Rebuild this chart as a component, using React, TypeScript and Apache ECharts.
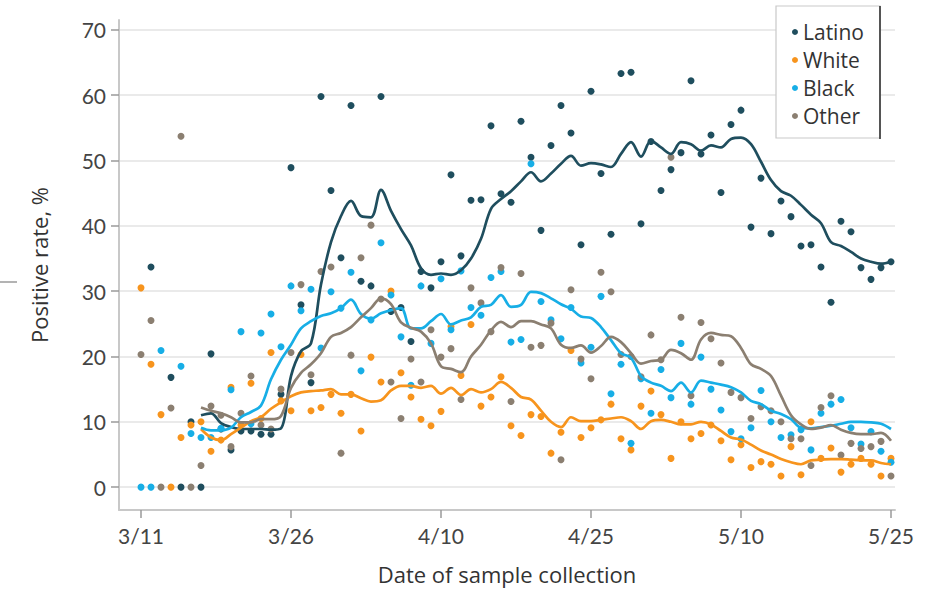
import React, { useEffect, useRef } from "react";
import * as echarts from "echarts";

// Days since 3/11 (index = day 0..75)
const xTickLabels = ["3/11", "3/26", "4/10", "4/25", "5/10", "5/25"];
const yTickValues = [0, 10, 20, 30, 40, 50, 60, 70];
const seriesNames = ["Latino", "White", "Black", "Other"];
const seriesColors = ["#1f4e5e", "#f7941d", "#17aee6", "#8b7f71"];

const latinoPts = [null, 33.7, null, 16.8, 0, 10.0, 0, 20.4, 8.9, 5.7,
  8.6, 8.6, 8.1, 8.1, 14.2, 48.9, 27.9, 16.0, 59.8, 45.4,
  35.1, 58.4, 31.5, 30.8, 59.8, 26.9, 27.5, 22.3, 33.0, 30.5,
  34.5, 47.8, 35.4, 43.9, 44.0, 55.3, 44.9, 43.6, 56.0, 50.5,
  39.3, 52.3, 58.4, 54.2, 37.1, 60.6, 48.0, 38.7, 63.3, 63.5,
  40.3, 52.9, 45.4, 48.6, 51.2, 62.2, 51.0, 53.9, 45.1, 55.5,
  57.7, 39.8, 47.3, 38.8, 43.8, 41.4, 36.9, 37.1, 33.7, 28.3,
  40.7, 39.1, 33.6, 31.8, 33.6, 34.5];

const whitePts = [30.5, 18.8, 11.1, 0, 7.6, 9.5, 10.0, 5.5, 7.2, 15.3,
  9.5, 15.9, 10.5, 20.6, 13.2, 11.7, 20.3, 11.7, 12.2, 14.2,
  11.3, 14.2, 8.6, 19.9, 16.1, 30.0, 17.5, 13.8, 10.4, 9.4,
  11.6, 24.6, 17.1, 24.9, 12.4, 13.8, 16.9, 9.4, 7.9, 11.1,
  10.8, 5.2, 8.4, 20.9, 7.6, 9.1, 10.3, 12.7, 7.4, 5.7,
  12.4, 14.7, 11.1, 4.4, 10.0, 7.4, 8.2, 9.5, 7.1, 4.2,
  6.5, 3.0, 3.9, 3.5, 1.7, 6.2, 1.9, 10.0, 4.4, 6.0,
  2.3, 3.5, 4.4, 3.5, 1.7, 4.4];

const blackPts = [0, 0, 20.9, null, 18.5, 8.2, 7.6, 7.6, 9.0, 14.9,
  23.8, 9.7, 23.6, 26.5, 21.5, 30.8, 27.0, 30.3, 21.3, 29.9,
  27.4, 32.9, 17.8, 25.6, 37.4, 29.4, 23.0, 15.6, 30.8, 22.0,
  31.9, 24.1, 33.1, 27.5, 26.3, 32.1, 33.0, 22.2, 22.6, 49.5,
  28.4, 25.6, 22.7, 27.5, 19.0, 21.4, 29.2, 14.3, 18.8, 6.7,
  16.6, 11.3, 18.0, 13.7, 22.0, 12.7, 19.9, 15.0, 11.8, 8.5,
  7.4, 9.1, 14.8, 10.0, 7.6, 8.0, 8.8, 5.7, 11.3, 12.7,
  13.4, 9.1, 6.6, 8.5, 5.5, 3.8];

const otherPts = [20.3, 25.5, 0, 12.1, 53.7, 0, 3.3, 12.4, 11.0, 6.2,
  11.3, 17.0, 9.5, 8.9, 15.0, 20.6, 31.0, 17.2, 33.0, 33.7,
  5.2, 20.2, 35.1, 40.1, 28.8, 16.1, 10.5, 19.6, 16.1, 24.1,
  19.9, 21.2, 13.4, 30.5, 28.2, 23.8, 33.6, 13.1, 32.7, 21.4,
  21.7, 25.1, 4.2, 30.2, 19.6, 16.6, 32.9, 29.9, 20.3, 20.0,
  16.9, 23.3, 19.5, 50.5, 26.0, 14.0, 25.2, 22.7, 19.0, 14.5,
  13.7, 10.5, 12.3, 11.7, 10.0, 7.4, 7.4, 3.3, 12.2, 14.0,
  4.9, 6.7, 5.9, 6.2, 7.0, 1.7];

const latinoLine = [null, null, null, null, null, null,
  11.0, 11.3, 9.8, 9.2, 8.9, 8.9, 8.9, 8.8, 9.0, 17.0,
  20.8, 22.0, 31.0, 37.5, 41.5, 43.8, 41.5, 41.3, 45.5, 42.3,
  39.5, 37.0, 33.5, 32.5, 32.7, 32.5, 33.2, 35.0, 38.0, 42.6,
  44.1, 45.3, 46.8, 48.2, 46.8, 48.0, 49.5, 50.7, 49.2, 49.6,
  49.4, 49.0, 51.0, 52.8, 50.6, 53.0, 52.0, 51.0, 52.8, 52.5,
  51.5, 52.3, 52.0, 53.3, 53.5, 52.5, 49.8, 47.0, 45.3, 44.6,
  43.2, 41.7, 40.4, 37.5, 36.9, 36.0, 35.0, 34.5, 34.2, 34.5];

const whiteLine = [null, null, null, null, null, null,
  8.9, 7.6, 7.2, 8.1, 9.1, 10.1, 10.7, 12.0, 13.0, 13.9,
  14.5, 14.7, 14.8, 15.0, 14.2, 14.2, 13.6, 13.1, 13.3, 14.8,
  15.5, 15.5, 15.2, 15.5, 14.3, 15.2, 14.1, 15.0, 14.5, 15.0,
  16.1, 15.2, 13.8, 13.4, 11.7, 10.0, 9.2, 10.7, 10.1, 10.1,
  10.3, 10.5, 10.7, 10.1, 8.9, 10.1, 10.3, 10.0, 9.6, 9.6,
  10.0, 9.6, 8.6, 7.6, 7.3, 6.5, 5.6, 5.0, 4.3, 3.8,
  3.5, 4.1, 4.2, 4.3, 4.3, 4.2, 4.1, 4.1, 3.7, 3.5];

const blackLine = [null, null, null, null, null, null,
  9.1, 8.7, 8.7, 9.1, 10.7, 11.5, 12.5, 16.5, 19.5, 21.8,
  24.3, 25.4, 26.2, 26.6, 27.4, 28.7, 26.5, 25.8, 26.6, 27.1,
  27.4, 24.3, 24.3, 25.4, 26.5, 24.9, 25.5, 26.0, 27.6, 27.9,
  29.4, 27.6, 27.9, 29.9, 29.7, 28.9, 28.0, 27.3, 26.1, 25.9,
  24.5, 22.5, 20.5, 19.8, 17.0, 16.0, 15.5, 14.7, 16.0, 14.5,
  16.3, 16.0, 15.7, 15.3, 14.5, 13.2, 12.7, 11.7, 11.2, 10.4,
  9.1, 9.0, 9.2, 9.4, 9.7, 10.0, 10.0, 9.9, 9.7, 8.9];

const otherLine = [null, null, null, null, null, null,
  12.2, 11.7, 11.3, 10.7, 9.9, 9.9, 10.4, 10.4, 10.9, 15.2,
  17.5, 18.8, 20.5, 23.0, 23.6, 24.5, 26.0, 27.4, 28.9, 28.0,
  25.2, 24.4, 23.8, 22.0, 18.5, 18.1, 17.6, 20.0, 21.8, 24.0,
  25.3, 24.5, 25.4, 25.4, 24.9, 24.3, 21.8, 21.3, 21.7, 20.6,
  21.6, 23.0, 22.2, 20.5, 18.9, 19.3, 19.5, 21.0, 20.5, 19.5,
  22.6, 23.6, 23.3, 23.1, 21.3, 18.8, 18.1, 17.0, 14.0, 11.0,
  9.6, 8.9, 9.1, 9.5, 8.8, 8.3, 8.1, 8.1, 8.3, 7.1];

const pointSets = [latinoPts, whitePts, blackPts, otherPts];
const lineSets = [latinoLine, whiteLine, blackLine, otherLine];

const TITLE_FONT = "'Open Sans', Lato, sans-serif";
const TICK_FONT = "Lato, 'Open Sans', sans-serif";

function toPairs(arr: (number | null)[]) {
  const out: [number, number][] = [];
  arr.forEach((v, i) => {
    if (v !== null && v !== undefined) out.push([i, v]);
  });
  return out;
}

export default function App() {
  const ref = useRef<HTMLDivElement>(null);

  useEffect(() => {
    if (!ref.current) return;
    const chart = echarts.init(ref.current, undefined, { renderer: "svg" });

    const scatterSeries = seriesNames.map((name, k) => ({
      name,
      type: "scatter",
      data: toPairs(pointSets[k]),
      symbol: "circle",
      symbolSize: 7,
      itemStyle: { color: seriesColors[k], opacity: 1 },
      z: 2,
    }));
    const lineSeries = seriesNames.map((name, k) => ({
      name: name + " trend",
      type: "line",
      data: toPairs(lineSets[k]),
      smooth: 0.35,
      showSymbol: false,
      symbol: "none",
      lineStyle: { color: seriesColors[k], width: 2.7 },
      z: 3,
    }));

    const xTickValues = xTickLabels.map((_, i) => i * 15);

    chart.setOption({
      animation: false,
      backgroundColor: "#ffffff",
      textStyle: { fontFamily: TICK_FONT },
      grid: { left: 119, right: 43, top: 20, bottom: 77, containLabel: false },
      legend: {
        data: seriesNames,
        orient: "vertical",
        left: 776,
        top: 6,
        padding: [15, 14, 11, 16],
        itemGap: 6,
        itemWidth: 6,
        itemHeight: 6,
        icon: "circle",
        borderWidth: 0,
        z: 10,
        textStyle: { fontSize: 21, color: "#333333", fontFamily: TITLE_FONT, lineHeight: 22 },
      },
      xAxis: {
        type: "value",
        min: -2.2,
        max: 75.4,
        name: "Date of sample collection",
        nameLocation: "middle",
        nameGap: 53,
        nameTextStyle: { fontSize: 22, color: "#333333", fontFamily: TITLE_FONT },
        axisLine: { show: true, onZero: false, lineStyle: { color: "#c8c8c8", width: 2 } },
        axisTick: { show: true, length: 8, customValues: xTickValues, lineStyle: { color: "#9a9a9a", width: 1.5 } },
        axisLabel: {
          customValues: xTickValues,
          margin: 15,
          fontSize: 21,
          color: "#444444",
          fontFamily: TICK_FONT,
          formatter: (v: number) => xTickLabels[Math.round(v / 15)] ?? "",
        },
        splitLine: { show: false },
      },
      yAxis: {
        type: "value",
        min: -3.5,
        max: 71.5,
        name: "Positive rate, %",
        nameLocation: "middle",
        nameGap: 69,
        nameTextStyle: { fontSize: 22, color: "#333333", fontFamily: TITLE_FONT },
        axisLine: { show: true, onZero: false, lineStyle: { color: "#c8c8c8", width: 2 } },
        axisTick: { show: true, length: 8, customValues: yTickValues, lineStyle: { color: "#9a9a9a", width: 1.5 } },
        axisLabel: {
          customValues: yTickValues,
          margin: 13,
          fontSize: 21,
          color: "#444444",
          fontFamily: TICK_FONT,
        },
        splitLine: { show: true, lineStyle: { color: "#e3e3e3", width: 1.6 } },
      },
      graphic: [
        { type: "line", shape: { x1: 0, y1: 282, x2: 17, y2: 282 }, style: { stroke: "#808080", lineWidth: 1.2 }, z: 10 },
        {
          type: "rect",
          shape: { x: 776, y: 6, width: 104, height: 132 },
          style: { fill: "#ffffff", stroke: "#c9c9c9", lineWidth: 1.2 },
          z: 5,
        },
        { type: "line", shape: { x1: 880, y1: 6, x2: 880, y2: 139 }, style: { stroke: "#333333", lineWidth: 1.6 }, z: 6 },
      ],
      series: [...scatterSeries, ...lineSeries],
    });

    return () => chart.dispose();
  }, []);

  return (
    <div
      ref={ref}
      style={{ position: "fixed", left: 0, top: 0, width: 938, height: 590, background: "#ffffff" }}
    />
  );
}
